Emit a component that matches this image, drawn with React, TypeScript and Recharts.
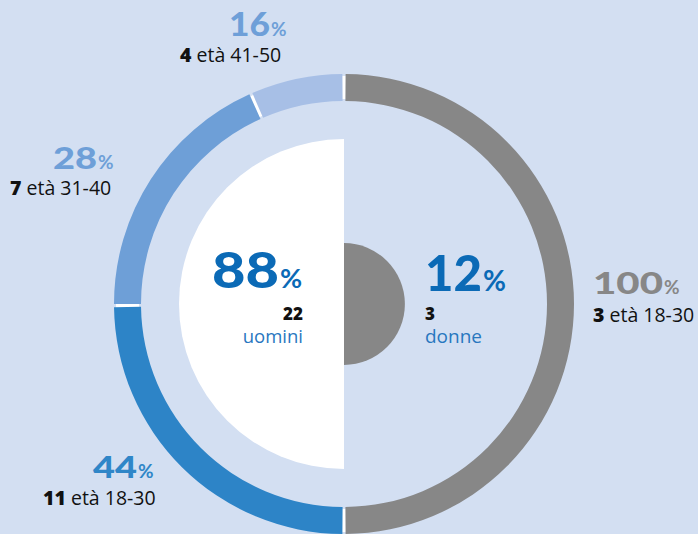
import React from "react";
import { PieChart, Pie, Cell } from "recharts";

// ---- data ----
const menGroups = ["età 18-30", "età 31-40", "età 41-50"];
const menCounts = [11, 7, 4];
const menPct = [44, 28, 16];
// share of the men's half-ring occupied by each group, as drawn in the picture
const menArcShare = [50, 37, 13];
const womenGroups = ["età 18-30"];
const womenCounts = [3];
const womenPct = [100];
const genderLabels = ["uomini", "donne"];
const genderCounts = [22, 3];
const genderPct = [88, 12];

// ---- styles ----
const BG = "#d3dff2";
const GRAY = "#878787";
const MEN_COLORS = ["#2d84c7", "#6e9fd7", "#a7bfe6"];
const MEN_TEXT = ["#2f86c8", "#6e9fd8", "#6e9fd8"];
const BLUE_TEXT = "#0b6ab6";
const BLUE_SMALL = "#2877bf";
const W = 698;
const H = 534;
const CX = 344;
const CY = 304;
const R_OUT = 230;
const R_IN = 203;
const MEN_R = 165;
const womenR = MEN_R * Math.sqrt(genderCounts[1] / genderCounts[0]);

const menData = menArcShare.map((v, i) => ({ name: menGroups[i], value: v, count: menCounts[i] }));
const womenData = womenCounts.map((v, i) => ({ name: womenGroups[i], value: v }));

const NUM_FONT = "Lato, 'Open Sans', sans-serif";
const TXT_FONT = "'Open Sans', Lato, sans-serif";

function BigPct({ x, y, num, w, size, pct, color }: { x: number; y: number; num: string; w: number; size: number; pct: number; color: string }) {
  return (
    <g>
      <text x={x} y={y} fontFamily={NUM_FONT} fontWeight={900} fontSize={size} fill={color} textLength={w} lengthAdjust="spacingAndGlyphs">
        {num}
      </text>
      <text x={x + w + 1} y={y} fontFamily={NUM_FONT} fontWeight={700} fontSize={pct} fill={color}>
        %
      </text>
    </g>
  );
}

function SmallLine({ x, y, count, label }: { x: number; y: number; count: number; label: string }) {
  return (
    <text x={x} y={y} fontFamily={TXT_FONT} fontSize={19.5} fill="#111">
      <tspan fontWeight={800}>{count}</tspan>
      <tspan> {label}</tspan>
    </text>
  );
}

export default function App() {
  return (
    <div style={{ position: "fixed", left: 0, top: 0, width: W, height: H, background: BG, overflow: "hidden" }}>
      <div style={{ position: "absolute", left: 0, top: 0 }}>
        <PieChart width={W} height={H} margin={{ top: 0, right: 0, bottom: 0, left: 0 }}>
          {/* white backing ring shows through gaps */}
          <Pie
            data={[{ value: 1 }]}
            dataKey="value"
            cx={CX}
            cy={CY}
            innerRadius={R_IN + 2}
            outerRadius={R_OUT - 2}
            startAngle={90}
            endAngle={-270}
            fill="#ffffff"
            stroke="none"
            isAnimationActive={false}
          />
          {/* women outer: right half */}
          <Pie
            data={womenData}
            dataKey="value"
            cx={CX}
            cy={CY}
            innerRadius={R_IN}
            outerRadius={R_OUT}
            startAngle={89.6}
            endAngle={-89.6}
            stroke="none"
            isAnimationActive={false}
          >
            {womenData.map((d, i) => (
              <Cell key={i} fill={GRAY} />
            ))}
          </Pie>
          {/* men outer: left half, clockwise from bottom */}
          <Pie
            data={menData}
            dataKey="value"
            cx={CX}
            cy={CY}
            innerRadius={R_IN}
            outerRadius={R_OUT}
            startAngle={-90.4}
            endAngle={-269.6}
            paddingAngle={0.8}
            stroke="none"
            isAnimationActive={false}
          >
            {menData.map((d, i) => (
              <Cell key={i} fill={MEN_COLORS[i]} />
            ))}
          </Pie>
          {/* inner halves */}
          <Pie
            data={[{ name: genderLabels[0], value: genderCounts[0] }]}
            dataKey="value"
            cx={CX}
            cy={CY}
            innerRadius={0}
            outerRadius={MEN_R}
            startAngle={90}
            endAngle={270}
            fill="#ffffff"
            stroke="none"
            isAnimationActive={false}
          />
          <Pie
            data={[{ name: genderLabels[1], value: genderCounts[1] }]}
            dataKey="value"
            cx={CX}
            cy={CY}
            innerRadius={0}
            outerRadius={womenR}
            startAngle={90}
            endAngle={-90}
            fill={GRAY}
            stroke="none"
            isAnimationActive={false}
          />
        </PieChart>
      </div>
      <svg width={W} height={H} style={{ position: "absolute", left: 0, top: 0 }}>
        {/* men groups */}
        <BigPct x={229} y={36} num={String(menPct[2])} w={41} size={32} pct={19} color={MEN_TEXT[2]} />
        <SmallLine x={180} y={62} count={menCounts[2]} label={menGroups[2]} />
        <BigPct x={53} y={169} num={String(menPct[1])} w={44} size={31} pct={19} color={MEN_TEXT[1]} />
        <SmallLine x={10} y={195} count={menCounts[1]} label={menGroups[1]} />
        <BigPct x={93} y={478} num={String(menPct[0])} w={44} size={31} pct={19} color={MEN_TEXT[0]} />
        <SmallLine x={43} y={505} count={menCounts[0]} label={menGroups[0]} />
        {/* women group */}
        <BigPct x={593} y={294} num={String(womenPct[0])} w={70} size={31} pct={19} color={GRAY} />
        <SmallLine x={593} y={322} count={womenCounts[0]} label={womenGroups[0]} />
        {/* gender centre */}
        <BigPct x={212} y={288} num={String(genderPct[0])} w={67} size={50} pct={27} color={BLUE_TEXT} />
        <text x={303} y={320} fontFamily={TXT_FONT} fontWeight={800} fontSize={17} fill="#111" textAnchor="end">{genderCounts[0]}</text>
        <text x={303} y={343} fontFamily={TXT_FONT} fontSize={18.5} fill={BLUE_SMALL} textAnchor="end">{genderLabels[0]}</text>
        <BigPct x={425} y={291} num={String(genderPct[1])} w={57} size={50} pct={28} color={BLUE_TEXT} />
        <text x={425} y={320} fontFamily={TXT_FONT} fontWeight={800} fontSize={17} fill="#111">{genderCounts[1]}</text>
        <text x={425} y={343} fontFamily={TXT_FONT} fontSize={19} fill={BLUE_SMALL}>{genderLabels[1]}</text>
      </svg>
    </div>
  );
}
